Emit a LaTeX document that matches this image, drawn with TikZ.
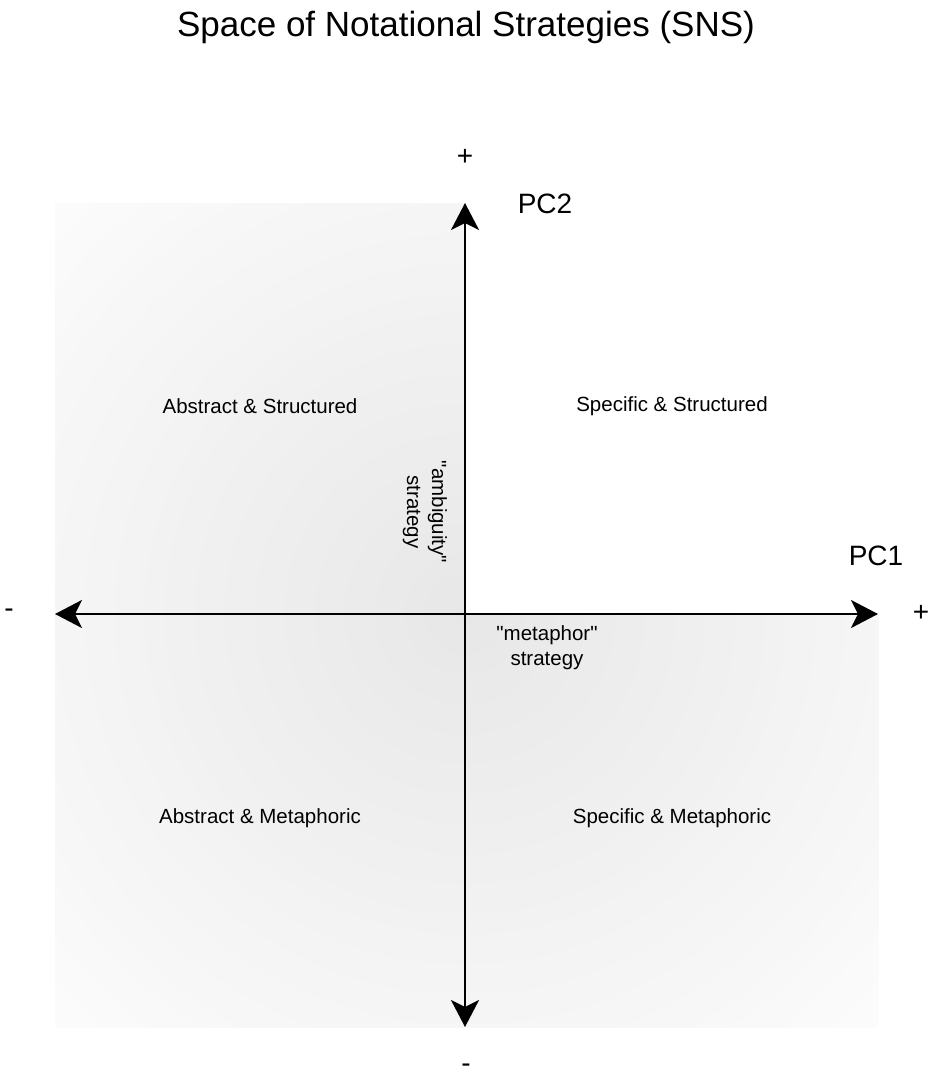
\documentclass[tikz,border=0pt]{standalone}
\usepackage{fontspec}
\setmainfont{Liberation Sans}
\newfontfamily\nolig{Liberation Sans}
\usetikzlibrary{arrows.meta}
\definecolor{shA}{HTML}{E7E7E7}
\definecolor{shC}{HTML}{FCFCFC}
\tikzset{
  axis/.style={line width=2.4pt, {Stealth[length=27pt,width=28pt,inset=7pt]}-{Stealth[length=27pt,width=28pt,inset=7pt]}},
  quadlabel/.style={font=\fontsize{20.5}{24}\selectfont, text=black},
  pclabel/.style={font=\fontsize{28}{32}\selectfont},
  signlabel/.style={font=\fontsize{28}{32}\selectfont},
  stratlabel/.style={font=\nolig\fontsize{20.5}{25}\selectfont, align=center, inner sep=0pt},
}
\begin{document}
\begin{tikzpicture}[x=1pt,y=-1pt]
\useasboundingbox (0,0) rectangle (935,1080);
\fill[white] (0,0) rectangle (935,1080);
% shaded quadrants
\begin{scope}
  \clip (55,203) rectangle (465,614) (55,614) rectangle (878,1027);
  \fill[shC] (55,203) rectangle (878,1027);
  \foreach \i in {60,59,...,1} {
    \pgfmathsetmacro\p{100-\i*100/60}
    \fill[shA!\p!shC] (465,614) circle[radius=\i*10];
  }
\end{scope}
% axes endpoints
\coordinate (L) at (55,614);
\coordinate (R) at (878,614);
\coordinate (T) at (465,203);
\coordinate (B) at (465,1027);
\draw[axis] (L) -- (R);
\draw[axis] (B) -- (T);
% title
\node[font=\fontsize{35}{40}\selectfont] (title) at (466,27) {Space of Notational Strategies (SNS)};
% signs
\node[signlabel] (plusY) at (465,157) {+};
\node[signlabel] (minusY) at (466,1068) {-};
\node[signlabel] (minusX) at (9,613) {-};
\node[signlabel] (plusX) at (921,613) {+};
% PC labels
\node[pclabel] (pc2) at (545,204) {PC2};
\node[pclabel] (pc1) at (876,556) {PC1};
% quadrant labels
\node[quadlabel] (as) at (260,406) {Abstract \& Structured};
\node[quadlabel] (ss) at (672,406) {Specific \& Structured};
\node[quadlabel] (am) at (260,818) {Abstract \& Metaphoric};
\node[quadlabel] (sm) at (672,818) {Specific \& Metaphoric};
% strategy labels
\node[stratlabel, rotate=-90] (amb) at (425,512) {"ambiguity"\\strategy};
\node[stratlabel] (met) at (547,648) {"metaphor"\\strategy};
\end{tikzpicture}
\end{document}
